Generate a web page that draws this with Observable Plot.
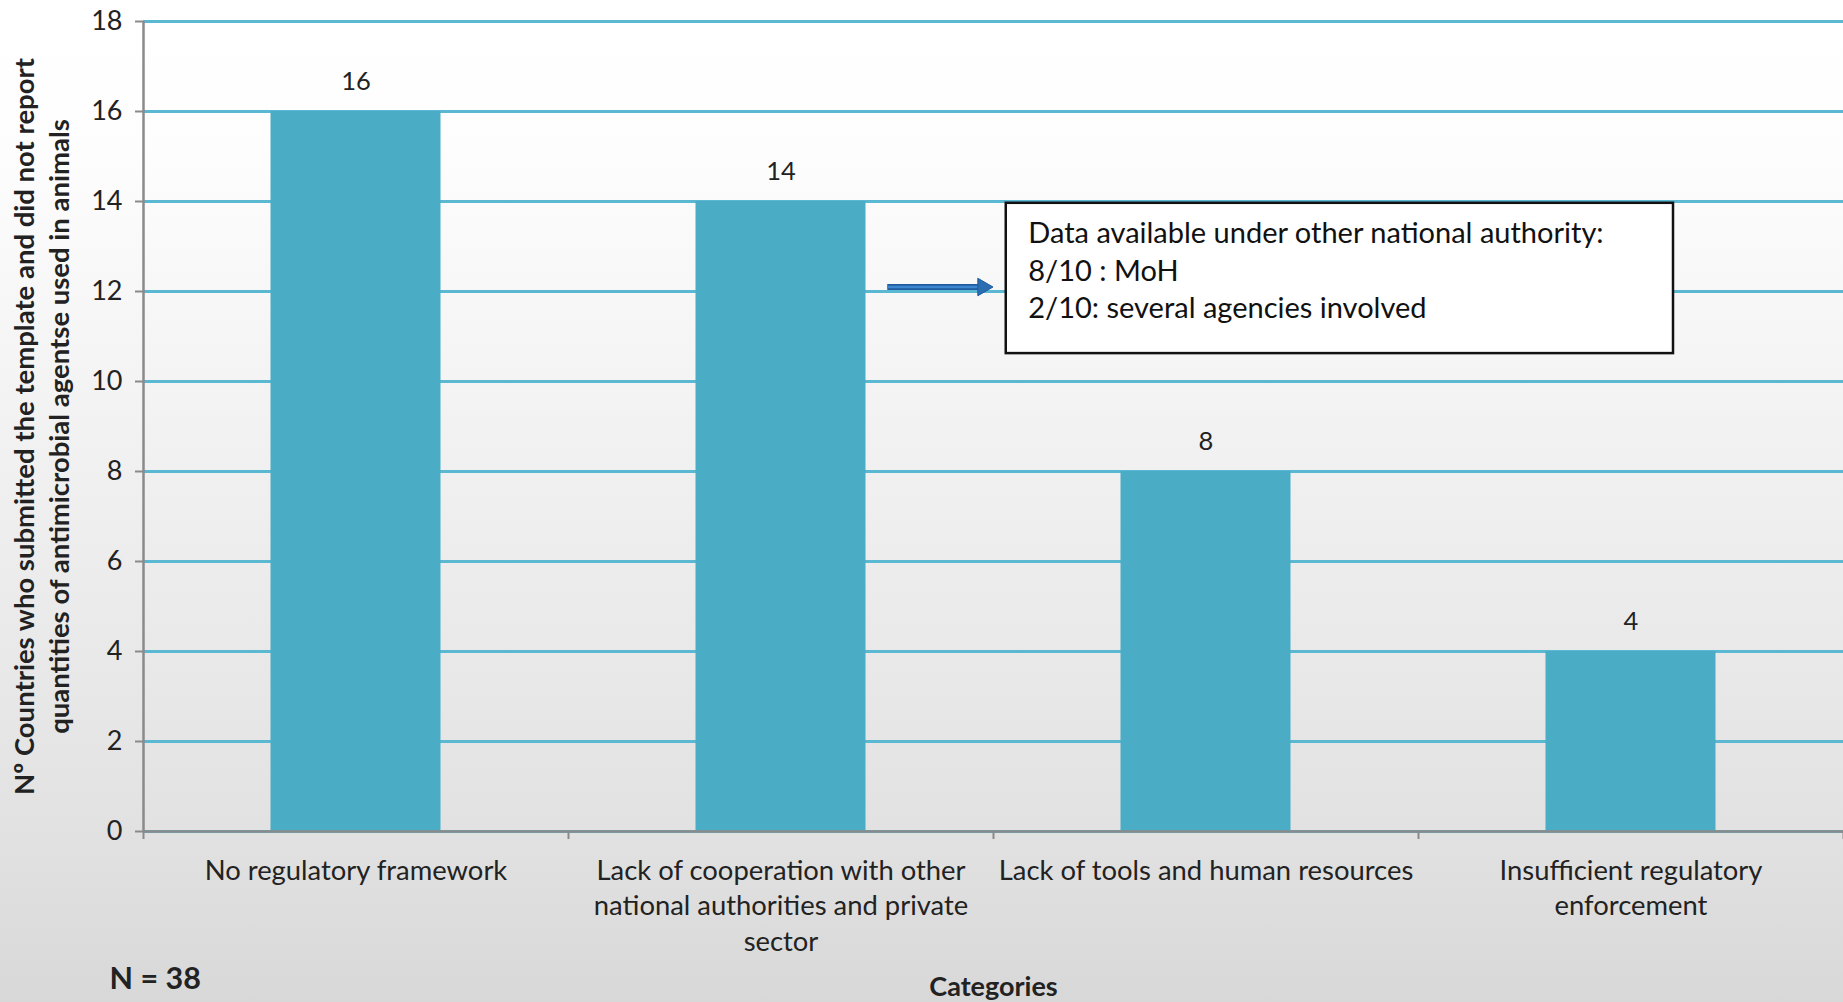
<!DOCTYPE html>
<html>
<head>
<meta charset="utf-8">
<script src="https://cdn.jsdelivr.net/npm/d3@7"></script>
<script src="https://cdn.jsdelivr.net/npm/@observablehq/plot@0.6"></script>
<style>
  html, body { margin: 0; padding: 0; overflow: hidden; background: #ffffff; }
  #chart { position: relative; width: 1843px; height: 1002px; }
  #chart svg { display: block; }
</style>
</head>
<body>
<div id="chart"></div>
<script>
// ---- data ----
const categories = [
  "No regulatory framework",
  "Lack of cooperation with other national authorities and private sector",
  "Lack of tools and human resources",
  "Insufficient regulatory enforcement"
];
const categoryLabels = [
  "No regulatory framework",
  "Lack of cooperation with other\nnational authorities and private\nsector",
  "Lack of tools and human resources",
  "Insufficient regulatory\nenforcement"
];
const values = [16, 14, 8, 4];
const yTicks = [0, 2, 4, 6, 8, 10, 12, 14, 16, 18];
const yTitle = "Nº Countries who submitted the template and did not report\nquantities of antimicrobial agentse used in animals";
const xTitle = "Categories";
const nNote = "N = 38";
const noteLines = "Data available under other national authority:\n8/10 : MoH\n2/10: several agencies involved";
// annotation placement (in data units)
const noteBox = [{x1: 2.03, x2: 3.6, y1: 10.62, y2: 13.96}];
const noteArrow = [{x1: 1.75, x2: 1.975, y: 12.1}];

const rows = categories.map((c, i) => ({i, category: c, label: categoryLabels[i], value: values[i]}));

const font = "Lato, 'Open Sans', sans-serif";
const barColor = "#4bacc6";
const gridColor = "#5ab8d2";
const axisColor = "#8a8a8a";

const chart = Plot.plot({
  width: 1843,
  height: 1002,
  marginTop: 21,
  marginBottom: 171,
  marginLeft: 143,
  marginRight: 0,
  style: {
    fontFamily: font,
    background: "linear-gradient(to bottom, #ffffff 0%, #fdfdfd 15%, #f1f1f1 45%, #e3e3e3 80%, #d8d8d8 100%)",
    color: "#222"
  },
  x: {type: "linear", domain: [0, categories.length], axis: null},
  y: {domain: [0, 18], axis: null},
  marks: [
    Plot.gridY(yTicks, {stroke: gridColor, strokeOpacity: 1, strokeWidth: 3}),
    Plot.rectY(rows, {x1: d => d.i, x2: d => d.i + 1, y: "value", fill: barColor, insetLeft: 127.5, insetRight: 127.5}),
    Plot.ruleX([0], {stroke: axisColor, strokeWidth: 2.5}),
    Plot.ruleY([0], {stroke: axisColor, strokeWidth: 2.5}),
    Plot.axisY(yTicks, {tickSize: 8, tickPadding: 13, fontSize: 27, stroke: axisColor, strokeWidth: 2, fill: "#222", label: null}),
    Plot.axisX(d3.range(categories.length + 1), {tickSize: 8, tickFormat: () => "", stroke: axisColor, strokeWidth: 2, label: null}),
    Plot.text(rows, {x: d => d.i + 0.5, y: 0, text: "label", lineAnchor: "top", dy: 24, fontSize: 27.4, lineHeight: 1.28, fill: "#222"}),
    Plot.text(rows, {x: d => d.i + 0.5, y: "value", text: d => String(d.value), lineAnchor: "middle", dy: -30, fontSize: 25.5, fill: "#222"}),
    Plot.rect(noteBox, {x1: "x1", x2: "x2", y1: "y1", y2: "y2", fill: "white", stroke: "#111", strokeWidth: 2.5}),
    Plot.text(noteBox, {x: "x1", y: "y2", text: () => noteLines, textAnchor: "start", lineAnchor: "top", dx: 22, dy: 13, fontSize: 29, lineHeight: 1.3, fill: "#111"}),
    Plot.link(noteArrow, {x1: "x1", x2: "x2", y1: "y", y2: "y", stroke: "#1f5c9e", strokeWidth: 6}),
    Plot.link(noteArrow, {x1: "x1", x2: "x2", y1: "y", y2: "y", stroke: "#3b86cf", strokeWidth: 2.5}),
    Plot.dot(noteArrow, {x: "x2", y: "y", symbol: "triangle", rotate: 90, r: 6.5, fill: "#2a6db0", stroke: "#1f5c9e", strokeWidth: 1}),
    Plot.text([yTitle], {frameAnchor: "left", textAnchor: "middle", rotate: -90, dx: -103, lineAnchor: "middle", fontSize: 27.5, fontWeight: "bold", lineHeight: 1.27, fill: "#222"}),
    Plot.text([xTitle], {frameAnchor: "bottom", dy: 164, fontSize: 27, fontWeight: "bold", fill: "#222"}),
    Plot.text([nNote], {frameAnchor: "bottom-left", textAnchor: "start", dx: -34, dy: 157, fontSize: 30.5, fontWeight: "bold", fill: "#222"})
  ]
});
document.getElementById("chart").append(chart);
</script>
</body>
</html>
